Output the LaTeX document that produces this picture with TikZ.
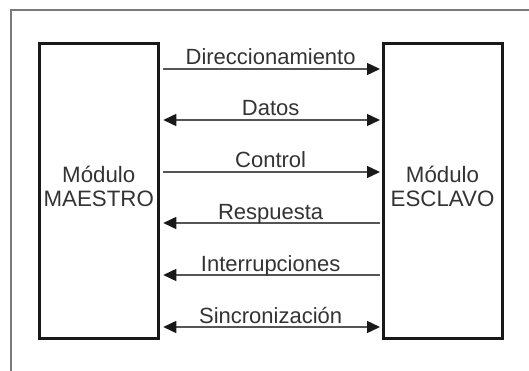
\documentclass[tikz,border=0pt]{standalone}
\usepackage{fontspec}
\setmainfont{Liberation Sans}
\usetikzlibrary{positioning}
\usetikzlibrary{arrows.meta}
\definecolor{textgray}{HTML}{333333}
\definecolor{linegray}{HTML}{555555}
\definecolor{framegray}{HTML}{7A7A7A}
\tikzset{
    module/.style = {rectangle,draw=black!90,line width=3pt,minimum width=119pt,minimum height=294pt,inner sep=0pt},
    moduletext/.style = {align=center,font=\fontsize{22.3}{24}\selectfont,text=textgray,inner sep=0pt},
    bus/.style = {draw=linegray,line width=1.4pt,shorten <=3.5pt,shorten >=1.5pt},
    bustip/.tip = {Triangle[length=13pt,width=12pt,color=black!90]},
    buslabel/.style = {anchor=base,yshift=4pt,inner sep=0pt,font=\fontsize{22}{24}\selectfont,text=textgray}}

\begin{document}
\begin{tikzpicture}[x=1pt,y=-1pt]
        \useasboundingbox (0,0) rectangle (529,371);
        \draw[framegray,line width=1.2pt] (11,371) -- (11,10) -- (529,10);
        \node[module] (Maestro) at (98.75,191) {};
        \node[module] (Esclavo) at (442.5,191) {};
        \node[moduletext,yshift=5pt] (MaestroText) at (Maestro.center) {Módulo\\MAESTRO};
        \node[moduletext,yshift=5pt] (EsclavoText) at (Esclavo.center) {Módulo\\ESCLAVO};
        \draw[bus,-bustip] (Maestro.east |- 0,69) -- node[buslabel] {Direccionamiento} (Esclavo.west |- 0,69);
        \draw[bus,bustip-bustip] (Maestro.east |- 0,120) -- node[buslabel] {Datos} (Esclavo.west |- 0,120);
        \draw[bus,-bustip] (Maestro.east |- 0,172) -- node[buslabel] {Control} (Esclavo.west |- 0,172);
        \draw[bus,bustip-] (Maestro.east |- 0,223) -- node[buslabel] {Respuesta} (Esclavo.west |- 0,223);
        \draw[bus,bustip-] (Maestro.east |- 0,275) -- node[buslabel] {Interrupciones} (Esclavo.west |- 0,275);
        \draw[bus,bustip-bustip] (Maestro.east |- 0,327) -- node[buslabel] {Sincronización} (Esclavo.west |- 0,327);
    \end{tikzpicture}
\end{document}
